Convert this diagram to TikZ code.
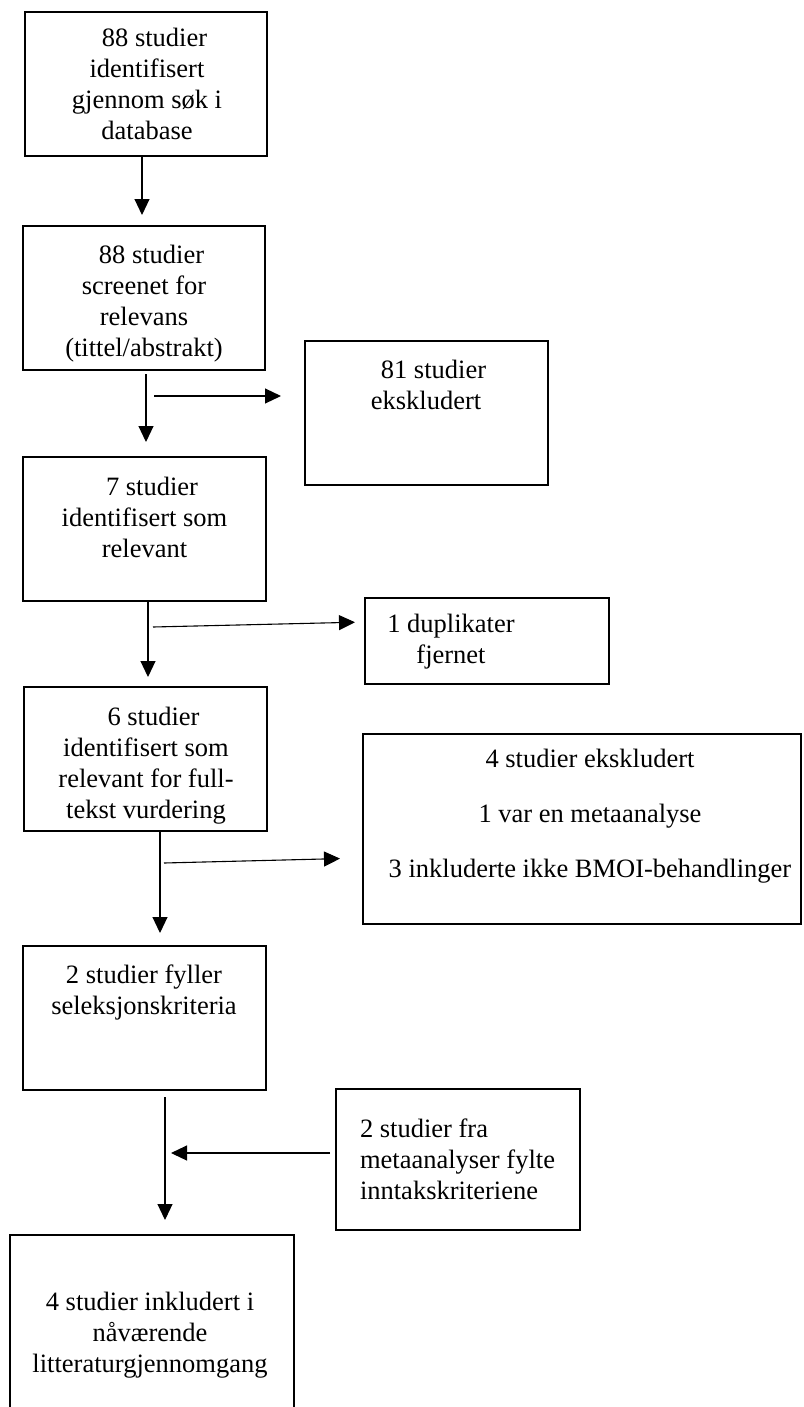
\documentclass[tikz,border=0pt]{standalone}
\usepackage{fontspec}
\setmainfont{Liberation Serif}
\usetikzlibrary{arrows.meta}
\tikzset{
  box/.style={draw, line width=1.8pt, rectangle, inner sep=0pt, outer sep=0pt},
  txt/.style={inner sep=0pt, outer sep=0pt, align=center, anchor=north,
              font=\fontsize{26.5}{31}\selectfont},
  arr/.style={line width=1.1pt, -{Triangle[length=16pt,width=15pt]}},
}
\newcommand{\fs}{\rule{0pt}{22pt}}
\begin{document}
\begin{tikzpicture}[x=1pt,y=-1pt]
\useasboundingbox (0,0) rectangle (803,1407);
% boxes (corner to corner)
\node[box, minimum width=242pt, minimum height=144pt] (b1) at (146,84) {};
\node[box, minimum width=242pt, minimum height=144pt] (b2) at (144,298) {};
\node[box, minimum width=243pt, minimum height=144pt] (b3) at (426.5,413) {};
\node[box, minimum width=243pt, minimum height=144pt] (b4) at (144.5,529) {};
\node[box, minimum width=244pt, minimum height=86pt] (b5) at (487,641) {};
\node[box, minimum width=243pt, minimum height=144pt] (b6) at (145.5,759) {};
\node[box, minimum width=438pt, minimum height=190pt] (b7) at (582,829) {};
\node[box, minimum width=243pt, minimum height=144pt] (b8) at (144.5,1018) {};
\node[box, minimum width=244pt, minimum height=141pt] (b9) at (458,1159.5) {};
\node[box, minimum width=284pt, minimum height=176pt] (b10) at (152,1323) {};
% texts
\node[txt] (t1) at (147,25) {\fs\hspace*{15pt}88 studier\\identifisert\\gjennom søk i\\database};
\node[txt] (t2) at (144,241) {\fs\hspace*{15pt}88 studier\\screenet for\\relevans\\(tittel/abstrakt)};
\node[txt] (t3) at (426,356) {\fs\hspace*{15pt}81 studier\\ekskludert};
\node[txt] (t4) at (144.5,473) {\fs\hspace*{15pt}7 studier\\identifisert som\\relevant};
\node[txt] (t5) at (451,610) {\fs 1 duplikater\\fjernet};
\node[txt] (t6) at (146,703) {\fs\hspace*{15pt}6 studier\\identifisert som\\relevant for full-\\tekst vurdering};
\node[txt] (t7) at (590,745) {\fs 4 studier ekskludert\\[24pt]1 var en metaanalyse\\[24pt]3 inkluderte ikke BMOI-behandlinger};
\node[txt] (t8) at (144,961) {\fs 2 studier fyller\\seleksjonskriteria};
\node[txt, anchor=north west, align=left] (t9) at (360,1115) {\fs 2 studier fra\\metaanalyser fylte\\inntakskriteriene};
\node[txt] (t10) at (150,1288) {\fs 4 studier inkludert i\\nåværende\\litteraturgjennomgang};
% free ends of side arrows
\coordinate (s2) at (154,396);
\coordinate (s3) at (153,627);
\coordinate (s4) at (164,863);
\coordinate (e5) at (171,1153);
% down arrows
\draw[arr, shorten >=11pt] (b1.south -| 142,0) -- (b2.north -| 142,0);
\draw[arr, shorten <=4pt, shorten >=15pt] (b2.south -| 146,0) -- (b4.north -| 146,0);
\draw[arr, shorten >=10pt] (b4.south -| 148,0) -- (b6.north -| 148,0);
\draw[arr, shorten >=13pt] (b6.south -| 160,0) -- (b8.north -| 160,0);
\draw[arr, shorten <=7pt, shorten >=15pt] (b8.south -| 165,0) -- (b10.north -| 165,0);
% side arrows
\draw[arr, shorten >=24pt] (s2) -- (b3.west |- s2);
\draw[arr, shorten >=10pt] (s3) -- (b5.west |- 0,622);
\draw[arr, shorten >=23pt] (s4) -- (b7.west |- 0,858);
\draw[arr, shorten <=6pt] (b9.west |- e5) -- (e5);
\end{tikzpicture}
\end{document}
